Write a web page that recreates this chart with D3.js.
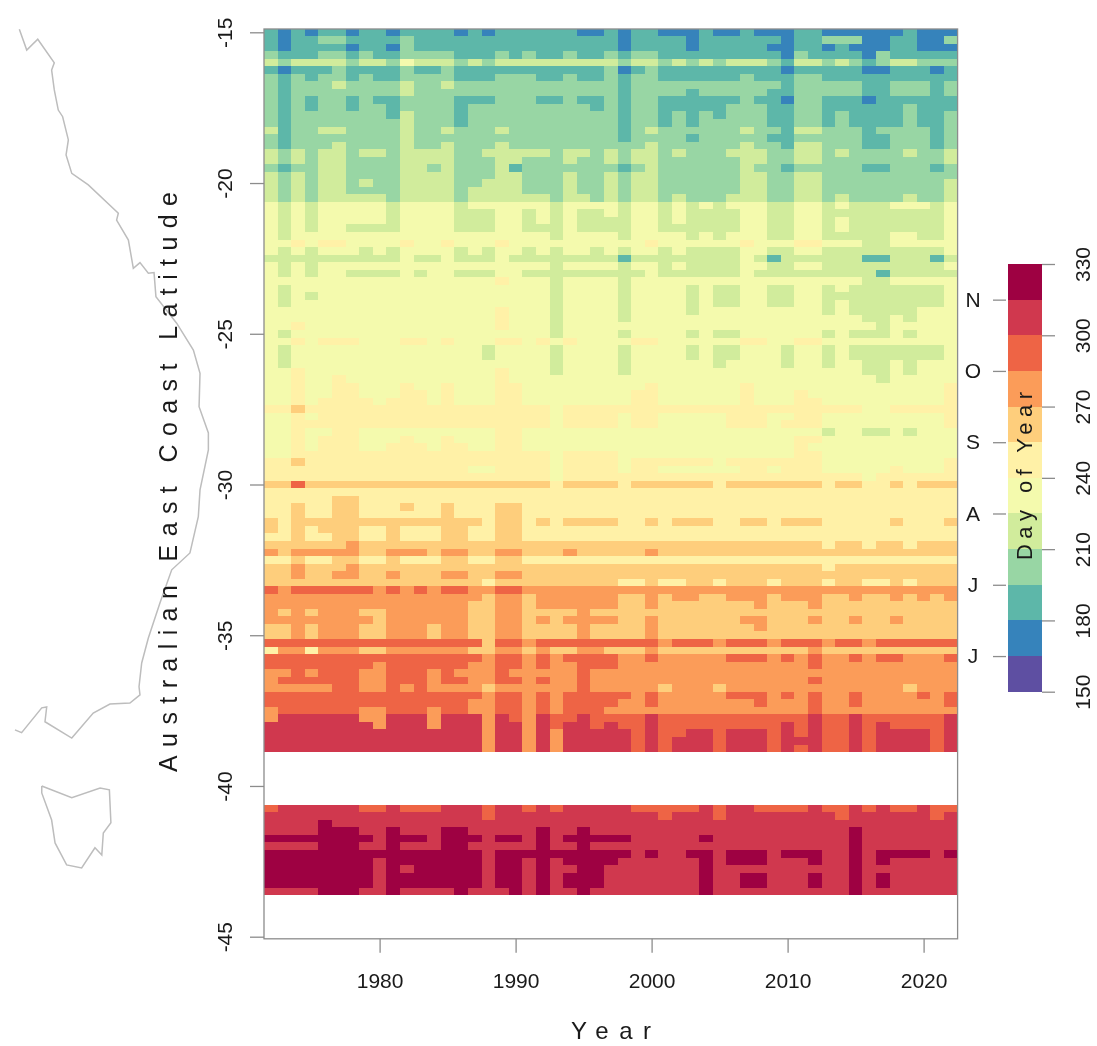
<!DOCTYPE html>
<html lang="en">
<head>
    <meta charset="UTF-8">
    <title>east-coast-day-of-year</title>
    <script src="https://d3js.org/d3.v7.min.js"></script>
    <style>
        html, body {
            margin: 0;
            padding: 0;
            background: #fff;
        }
        svg {
            display: block;
            filter: blur(0.6px);
        }
        text {
            font-family: "Liberation Sans", Arial, sans-serif;
            fill: #1a1a1a;
        }
        .axis path, .axis line {
            stroke: #8c8c8c;
            stroke-width: 1.3;
        }
    </style>
</head>
<body>
<svg class="graph"></svg>
<script>
    var width = 1097;
    var height = 1046;

    // spectral ramp, 12 bins of 15 days between day 150 and 330
    var spectral = ['#5E4FA2', '#3288BD', '#66C2A5', '#ABDDA4', '#E6F598', '#FFFFBF',
        '#FEE08B', '#FDAE61', '#F46D43', '#D53E4F', '#9E0142'];
    var dayDomain = [150, 330];
    var dayTicks = [150, 180, 210, 240, 270, 300, 330];
    var binCodes = 'abcdefghijkl';

    var monthLabels = ['J', 'J', 'A', 'S', 'O', 'N'];
    var monthDays = [165, 195, 225, 255, 285, 315];

    var yearTicks = [1980, 1990, 2000, 2010, 2020];
    var latTicks = [-15, -20, -25, -30, -35, -40, -45];
    var years = d3.range(1972, 2023);

    // one letter per year (1972-79, 80s, 90s, 00s, 10s, 20-22), letter = 15 day bin
    // rows run south in 0.25 degree steps from -15
    var northRows = [
        'cbcbccbc cbccccbcbc cccccbbcbc cbbbcbbcbb bccbbbbbbc bbb',
        'cbccddcc ccdccccccc ccccccccbc cccbcccccc bccdddbbcc bbd',
        'cbccccbc cbdccccccc ccccccccbc cccbcccccb bccbcbbbcc bbb',
        'dcccddcd ccddddcccd cdccdccdcd dccccccccc bdccccbdcc ccc',
        'edeeeede edfeeedede eeeeeeeede edededeeed ceededcdee ddd',
        'cbcccdcc ccdccdcccc cccccccdbc dccccccccc bcccccbbcc cbc',
        'dcdcddcd ccddddcccd ddccdccdcd dccccccdcc cddccccccc ccc',
        'dcdddedd ddeddedddd ddddddddcd dddddddddd cdddddccdd dcd',
        'dcdddddd ddeddddddd ddddddddcd dddcdddddc cdddddccdd dcd',
        'dcdcddcd ccddddcccd ddccdccdcd dccccccdcc bddcccbccc ccc',
        'dcdcddcd dcddddcddd ddddddcdcd dcccccdddc cddccccccd ccc',
        'dcdddddd dcedddcddd ddddddddcd dcdcdcdddc cddcdccccd ccd',
        'dcdddddd ddedddcddd ddddddddcd dcdcdddddc cddcdccccd ccd',
        'ecddeedd ddeddeddde ddddddddcd eddddddedd ceedddcddd dcd',
        'dcdddddd ddeddddddd ddddddddcd dddcdddddc cdddddccdd dcd',
        'dcdddedd ddeddeddde dddddddddd eddddddedd ceedddccdd dcd',
        'ededeede edeeeeddee eeedeedede ededddeeed deededddde dde',
        'ededeedd ddeeeeddde edddeddede eddddddeed deeddddddd dde',
        'dcddeedd ddeededdde cdddddddcd eddddddedd cdddddccdd dcd',
        'ededeedd ddeeeeddde edddeddede eddddddeed deeddddddd ddd',
        'ededeede ddeeeeddee edddeddede eddddddeed deeddddddd dde',
        'ededeedd ddeeeedeee edddeddede eddddddeed deeddddddd dde',
        'ededeeee edeeeedeee eeedeedede ededddeeed deededddde dde',
        'fefeffff feffffefff fffeffffef fefefefffe effefeeeff fef',
        'fefeffff feffffeeef fefefeefef fefeeeeffe effeeeeeee eef',
        'fefeffff feffffeeef fefefeeeef fefeeeeffe effefeeeee eef',
        'fefeffee eeffffeeef feeefeeeef feeeeeeffe effefeeeee eef',
        'feffffff ffffffffff fffeffffef fffefefffe effeeeeeff eef',
        'ffgfggff ffgffgfffg ffffffffff gffffffgff fggfffeeff fff',
        'fefefffe feffffefef fefeffefef fefeeeeffe effeeeeeee eef',
        'eeeeeeee eefeefeeef eeeeeeeece eeeeeeefec eeeeeeccee ece',
        'fefeffff ffffffffff fffeffffef fefeeeeffe effeeeeeee eef',
        'fefeffee eefeffeeef feeeeeeeee feeeeeefee eeeeeeecee eee',
        'ffffffff fffffffffg fffeffffef ffffffffff ffffffeeff fff',
        'feffffff ffffffffff fffeffffef fffefeeffe effefeeeee eef',
        'fefeffff ffffffffff fffeffffef fffefeeffe effeeeeeee eef',
        'feffffff ffffffffff fffeffffef fffefeeffe effefeeeee eef',
        'ffffffff fffffffffg fffeffffef fffeffffff fffefeeeee fff',
        'ffffffff fffffffffg fffeffffef ffffffffff ffffffeefe fff',
        'ffgfffff fffffffffg fffeffffff ffffffffff fffffffeff fff',
        'feffffff ffffffffff fffeffffef fffefeefff fffefeeefe fff',
        'ffgfgggf ffggfgfffg gfgfgffffg gffffffggf fggfffffff fff',
        'feffffff ffffffffef fffeffffef fffefeefff effefeeeee eef',
        'feffffff ffffffffef fffeffffef fffefeefff effefeeeee eef',
        'feffffff ffffffffff fffeffffef fffffeffff effeffeefe fff',
        'ffgfffff fffffffffg fffeffffef ffffffffff ffffffeefe fff',
        'ffgffgff fffffffffg ffffffffff ffffffffff fffffffeff fff',
        'ffgffggf ffgffgfffg gfffffffff gffffffgff ffffffffff ffg',
        'ffgffggf ffggfgfffg gffffffffg gffffffgff fgffffffff ffg',
        'ffgfgggg fgggfgfffg gffffffffg gffffffgff fggfffffff ffg',
        'gghggggg gggggggggg gggfgggggg gggggggggg ggggggffgg ggg',
        'ffgfgggg gggggggggg gggfggggfg gfffffgggf fggfffffff ffg',
        'ffgggggg gggggggggg gggfggggfg gfffffgggf gggfffffff ffg',
        'ffgffggf fffffffffg gfffffffff ffffffffff fffeffeefe fff',
        'ffgfgggf ffgffgfffg gfffffffff ffffffffff fggfffffff fff',
        'ffgfgggf fgggfggffg gfffffffff ffffffffff fgffffffff fff',
        'ffgggggg gggggggggg gggfggggff ffffffffff fggfffffff fff',
        'gghggggg gggggggggg gggfggggfg gggggfgggg gggfffffff ffg',
        'gggggggg gggggggffg gggfggggfg gffffffggf gggfffffgf ffg',
        'gggggggg gggggggggg gggfgggggg gggggggggg ggggggfggg ggg',
        'hhjhhhhh hhhhhhhhhh hhhghhhhgh hhhhhghhhh hhhghhgghg hhh',
        'gggggggg gggggggggg gggggggggg gggggggggg gggggggggg ggg',
        'ggggghhg gggggggggg gggggggggg gggggggggg gggggggggg ggg',
        'gghgghhg gghgghgggh hggggggggg gggggggggg gggggggggg ggg',
        'gghgghhg ggggghgggh hggggggggg gggggggggg gggggggggg ggg',
        'hghhhhhh hhhhhhhhgh hghghhhhgg hghhhgghhg hhhggggghg ggh',
        'hghghhhg ghggghhggh hggggggggg gggggggggg gggggggggg ggg',
        'gghgghhg ghggghhggh hggggggggg gggggggggg gggggggggg ggg',
        'hhhhhhih hhhhhhhhhh hhhhhhhhhh hhhhhhhhhh hhhghhghhg hhh',
        'ihiiiiih hiiihiihhi ihhhihhhhh ihhhhhhhhh hhhhhhhhhh hhh',
        'gghgghhg ghggghhggh hggggggggg gggggggggg gggggggggg ggg',
        'hhihhhih hhhhhhhhhh hhhhhhhhhh hhhhhhhhhh hhhghhhhhh hhh',
        'hhihhiih hihhhiihhi ihhhhhhhhh hhhhhhhhhh hhhhhhhhhh hhh',
        'hhhhhhhh hhhhhhhhgh hhhhhhhhgg hgghhghhhg hhhghhgghg hhh',
        'jijjjjjj ijijijjiij jiiiiiiiii iiiiiiiiii iiiiiiiiii iii',
        'iiiiiiii iiiiiiiihi ihiiiiiihh ihiihhiiih iiihhihhih ihi',
        'iiiiiiii iiiiiiihhi ihiiiiiihh ihhhhhhhih hhihhhhhhh hhh',
        'ihihiiih hiiiiiihhi ihhhhihhhh hhhhhhhhhh hhhhhhhhhh hhh',
        'iiiiiiii hiiiiiihhi ihihiiiihh ihhhhhhiih hhihhihhih hhh',
        'hhihiiih hiiihiihhi ihhhhihhhh ihhhhhhhih hhhhhhhhhh hhh',
        'hhihiiih hiiihiihhi ihhhhihhhh ihhhhhhhhh hhhhhhhhhh hhh',
        'jjjjjjjj jjjjjjjjhj jijjjjjjjj jijjjijjji jjjijjijjj jjj',
        'giigiiih hiiiiiihhi ihihhiihhh ihhhhhhhhh hhihhhhhhh hhh',
        'jjjjjjjj jjjjjjjjij jijijjjjii jiiiiijjji jijiijijji iij',
        'jjjjjjjj ijjjjjjiij jijiijjjii iiiiiiiiii iijiiiiiii iii',
        'iijijjji ijjjijiiij iiiiijiiii iiiiiiiiii iiiiiiiiii iii',
        'ijjjjjji ijjjijjiij jijiijiiii iiiiiiiiii iijiiiiiii iii',
        'iiiiijji ijijiiiihi iiiiijiiii ihiiihiiii iiiiiiiiih iii',
        'jjjjjjjj jjjjjjjjij jijijjjjji jiiiiijjji jijiijiiii jij',
        'jjjjjjjj jjjjjjjiij jijijjjjii jiiiiiiiji iijiijiiii iij',
        'ijjjjjji ijjjijjiij jijijjjiii iiiiiiiiii iijiiiiiii iii',
        'ikkkkkki ikkkikkkik jikjjkjjjj kjjjjjjjjj jjkjjkjjjj jjk',
        'kkkkkkkk ikkkikkkik kikjkkjkjj kjjjjjjjjj kjkjjkjkjj jjk',
        'kkkkkkkk kkkkkkkkik kikikkkkkj kjjkkjkkkj kjkjjkjkkk kjk',
        'kkkkkkkk kkkkkkkkik kikikkkkkj kjkkkjkkkj kkkjjkjkkk kjk',
        'kkkkkkkk kkkkkkkkik kikikkkkkj kjkkkjkkkj kjkjjkjkkk kjk'
    ];

    // same thing below the gap, starting at -40.75
    var southRows = [
        'jkkkkkkj jkjjjkkkjk kjkjkkkkkj jjjjkjkkjj jjkjjkjkjj kjj',
        'kkkkkkkk kkkkkkkkjk kkkkkkkkkk kjkkkjkkkk kkkkjkkkkk kjk',
        'kkkklkkk kkkkkkkkkk kkkkkkkkkk kkkkkkkkkk kkkkkkkkkk kkk',
        'kkkklllk klkkkllkkk kklkklkkkk kkkkkkkkkk kkkkklkkkk kkk',
        'llllllll klllklllkl lklklllllk kkkklkkkkk kkkkklkkkk kkk',
        'kkkklllk klkkkllkkk kklkklkkkk kkkkkkkkkk kkkkklkkkk kkk',
        'llllllll llllllllkl lllllllllk lkkllklllk lllkklklll lkl',
        'llllllll klllllllkl lklkllllkk kkkklklllk kklkklklkk kkk',
        'llllllll klklllllkl lklkkllkkk kkkklkkkkk kkkkklkkkk kkk',
        'llllllll klllllllkl lklklllkkk kkkklkkllk kklkklklkk kkk',
        'llllllll klllllllkl lklklllkkk kkkklkkllk kklkklklkk kkk',
        'kkkklllk klkkkklkkk lklkklkkkk kkkklkkkkk kkkkklkkkk kkk'
    ];

    // coastline, lon and lat in matching order
    var coastLon = [143.67, 144.06, 144.64, 145.51, 145.37, 145.51, 145.72, 145.95, 146.25, 146.13,
        146.43, 147.30, 148.88, 148.79, 149.41, 149.67, 150.02, 150.46, 150.76, 150.86,
        151.95, 152.83, 153.18, 153.13, 153.62, 153.62, 153.18, 153.09, 152.65, 151.69,
        151.07, 150.46, 150.11, 149.97, 150.02, 149.49, 148.44, 147.56, 146.43, 145.02,
        145.11, 144.85, 143.79, 143.44];
    var coastLat = [-14.90, -15.59, -15.23, -16.01, -16.25, -16.91, -17.58, -17.80, -18.57, -19.07,
        -19.68, -20.06, -21.00, -21.23, -21.89, -22.83, -22.64, -22.99, -22.97, -23.77,
        -24.65, -25.54, -26.31, -27.42, -28.29, -28.85, -30.18, -31.07, -32.27, -32.83,
        -33.93, -35.09, -35.92, -36.71, -36.98, -37.25, -37.28, -37.58, -38.41, -37.87,
        -37.38, -37.41, -38.23, -38.14];
    var tasLon = [144.85, 146.43, 147.92, 148.41, 148.49, 148.09, 148.01, 147.65, 146.95, 146.16,
        145.55, 145.37, 144.85, 144.85];
    var tasLat = [-40.00, -40.39, -40.07, -40.13, -41.22, -41.56, -42.29, -42.05, -42.72, -42.62,
        -41.89, -41.13, -40.23, -40.00];

    var svg = d3.select('.graph')
        .attr('width', width)
        .attr('height', height);

    var x = d3.scaleLinear().domain([1980, 2020]).range([379.6, 923.6]);
    var y = d3.scaleLinear().domain([-15, -45]).range([32.3, 936.7]);
    var lonScale = d3.scaleLinear().domain([143, 155]).range([6.6, 234.6]);

    var palette = d3.quantize(d3.piecewise(d3.interpolateRgb, spectral), 12);
    var color = d3.scaleQuantize().domain(dayDomain).range(palette);
    var legendY = d3.scaleLinear().domain(dayDomain).range([691.7, 264]);

    // flatten rows into one cell per year
    function toCells(rows, firstLat) {
        var cells = [];
        rows.forEach(function (row, i) {
            var codes = row.replace(/ /g, '');
            years.forEach(function (year, j) {
                cells.push({
                    year: year,
                    lat: firstLat - i * 0.25,
                    day: dayDomain[0] + 15 * binCodes.indexOf(codes[j]) + 7.5
                });
            });
        });
        return cells;
    }

    var cells = toCells(northRows, -15).concat(toCells(southRows, -40.75));

    // coastline
    var coastLine = d3.line()
        .x(function (d) { return lonScale(d[0]); })
        .y(function (d) { return y(d[1]); });

    svg.selectAll('path.coast')
        .data([d3.zip(coastLon, coastLat), d3.zip(tasLon, tasLat)])
        .enter()
        .append('path')
        .attr('class', 'coast')
        .attr('d', coastLine)
        .attr('fill', 'none')
        .attr('stroke', '#bdbdbd')
        .attr('stroke-width', 1.5);

    // heatmap
    svg.append('g')
        .selectAll('rect')
        .data(cells)
        .enter()
        .append('rect')
        .attr('x', function (d) { return x(d.year - 0.5); })
        .attr('width', x(1) - x(0))
        .attr('y', function (d) { return y(d.lat + 0.125); })
        .attr('height', y(-0.25) - y(0))
        .attr('fill', function (d) { return color(d.day); })
        .attr('shape-rendering', 'crispEdges');

    // plot box
    svg.append('rect')
        .attr('x', x(1971.5))
        .attr('y', y(-14.89))
        .attr('width', x(2022.5) - x(1971.5))
        .attr('height', y(-45.07) - y(-14.89))
        .attr('fill', 'none')
        .attr('stroke', '#8c8c8c')
        .attr('stroke-width', 1.3);

    // axes
    var xAxis = svg.append('g')
        .attr('class', 'axis')
        .attr('transform', 'translate(0,' + y(-45.07) + ')')
        .call(d3.axisBottom(x).tickValues(yearTicks).tickFormat(d3.format('d')).tickSize(14).tickSizeOuter(0));
    xAxis.select('.domain').remove();
    xAxis.selectAll('text')
        .attr('y', 34)
        .style('font-size', '21px');

    var yAxis = svg.append('g')
        .attr('class', 'axis')
        .attr('transform', 'translate(' + x(1971.5) + ',0)')
        .call(d3.axisLeft(y).tickValues(latTicks).tickFormat(String).tickSize(14).tickSizeOuter(0));
    yAxis.select('.domain').remove();
    yAxis.selectAll('text')
        .attr('x', 0)
        .attr('y', 0)
        .attr('dy', 0)
        .attr('text-anchor', 'middle')
        .attr('transform', 'translate(-32,0) rotate(-90)')
        .style('font-size', '21px');

    // axis titles, spread out with textLength like the wide spacing on the original
    svg.append('text')
        .attr('transform', 'translate(177,482) rotate(-90)')
        .attr('text-anchor', 'middle')
        .attr('textLength', 580)
        .attr('lengthAdjust', 'spacing')
        .style('font-size', '25px')
        .text('Australian East Coast Latitude');

    svg.append('text')
        .attr('x', 611)
        .attr('y', 1039)
        .attr('text-anchor', 'middle')
        .attr('textLength', 80)
        .attr('lengthAdjust', 'spacing')
        .style('font-size', '24px')
        .text('Year');

    // colour key
    var keyBins = palette.map(function (c, i) {
        return {start: dayDomain[0] + 15 * i, color: c};
    });

    svg.append('g')
        .selectAll('rect')
        .data(keyBins)
        .enter()
        .append('rect')
        .attr('x', 1007.5)
        .attr('width', 34.5)
        .attr('y', function (d) { return legendY(d.start + 15); })
        .attr('height', function (d) { return legendY(d.start) - legendY(d.start + 15); })
        .attr('fill', function (d) { return d.color; })
        .attr('shape-rendering', 'crispEdges');

    var keyAxis = svg.append('g')
        .attr('class', 'axis')
        .attr('transform', 'translate(1042,0)')
        .call(d3.axisRight(legendY).tickValues(dayTicks).tickSize(13).tickSizeOuter(0));
    keyAxis.select('.domain').remove();
    keyAxis.selectAll('text')
        .attr('x', 0)
        .attr('y', 0)
        .attr('dy', 0)
        .attr('text-anchor', 'middle')
        .attr('transform', 'translate(48,0) rotate(-90)')
        .style('font-size', '21px');

    var monthAxis = svg.append('g')
        .attr('class', 'axis')
        .attr('transform', 'translate(1006,0)')
        .call(d3.axisLeft(legendY).tickValues(monthDays)
            .tickFormat(function (d, i) { return monthLabels[i]; })
            .tickSize(13).tickSizeOuter(0));
    monthAxis.select('.domain').remove();
    monthAxis.selectAll('text')
        .attr('x', -33)
        .attr('text-anchor', 'middle')
        .style('font-size', '21px');

    svg.append('text')
        .attr('transform', 'translate(1032,476) rotate(-90)')
        .attr('text-anchor', 'middle')
        .attr('textLength', 168)
        .attr('lengthAdjust', 'spacing')
        .style('font-size', '22px')
        .text('Day of Year');
</script>
</body>
</html>
